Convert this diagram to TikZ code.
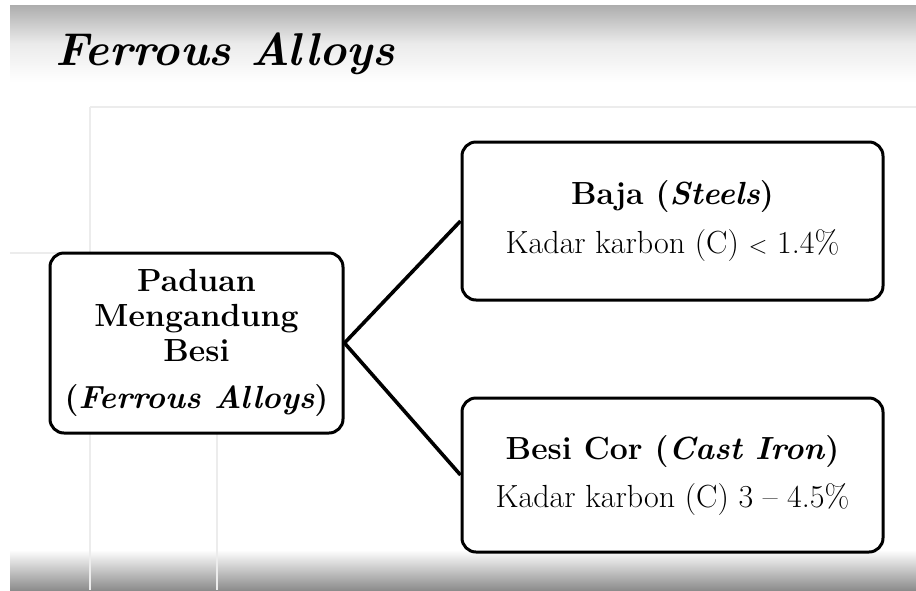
\documentclass[tikz,border=0pt]{standalone}
\usepackage{tikz}
\usetikzlibrary{positioning}
\definecolor{gridgray}{HTML}{ECECEC}

\begin{document}
\begin{tikzpicture}[
  x=1pt, y=1pt,
  box/.style={draw, fill=white, line width=3pt, rounded corners=14pt, align=center, inner sep=0pt},
  link/.style={line width=3.6pt},
]
  \useasboundingbox (0,0) rectangle (916,-590);
  \fill[white] (0,0) rectangle (916,-590);

  % Screen shading
  \shade[top color=black!32, bottom color=white, middle color=black!8] (10,-5) rectangle (916,-82);
  \shade[top color=white, bottom color=black!45] (10,-550) rectangle (916,-590);

  % Faint slide grid
  \draw[gridgray, line width=1.2pt] (90,-107) -- (916,-107);
  \draw[gridgray, line width=1.2pt] (10,-253) -- (60,-253);
  \draw[gridgray, line width=1.2pt] (90,-107) -- (90,-590);
  \draw[gridgray, line width=1.2pt] (217,-430) -- (217,-590);

  % Title
  \node[anchor=base west, font=\fontsize{46}{52}\selectfont\bfseries\itshape] (title) at (52,-65) {Ferrous Alloys};

  % Boxes
  \node[box, minimum width=293pt, minimum height=180pt, font=\fontsize{32}{35}\selectfont\bfseries] (paduan) at (196.5,-343)
    {Paduan\\Mengandung\\Besi\\[12pt](\textit{Ferrous Alloys})};
  \node[box, minimum width=421pt, minimum height=158pt, right=116pt of paduan, yshift=122pt, font=\fontsize{32}{49}\selectfont] (baja)
    {\textbf{Baja (\textit{Steels})}\\Kadar karbon (C) $<$ 1.4\%};
  \node[box, minimum width=421pt, minimum height=154pt, right=116pt of paduan, yshift=-132pt, font=\fontsize{32}{48}\selectfont] (besicor)
    {\textbf{Besi Cor (\textit{Cast Iron})}\\Kadar karbon (C) 3 -- 4.5\%};

  \draw[link] (paduan.east) -- (baja.west);
  \draw[link] (paduan.east) -- (besicor.west);
\end{tikzpicture}
\end{document}
